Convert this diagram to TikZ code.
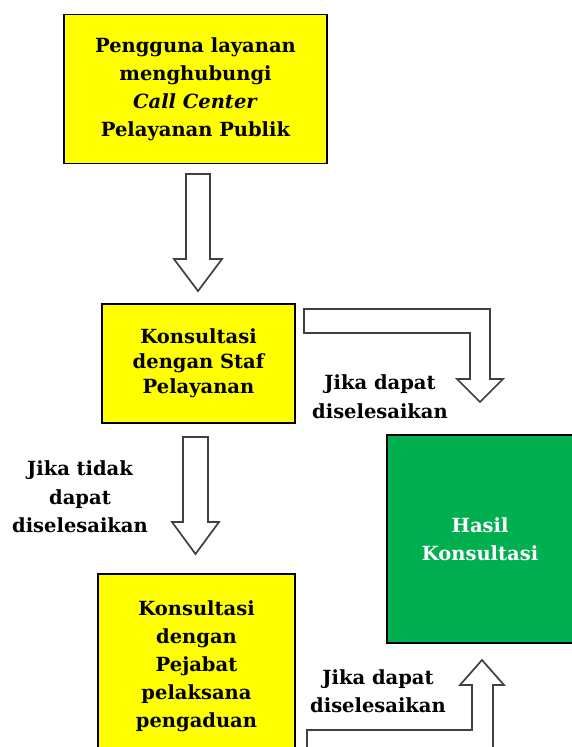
\documentclass[tikz,border=0pt]{standalone}
\usepackage{fontspec}
\setmainfont{DejaVu Serif}
\usetikzlibrary{calc}
\definecolor{boxyellow}{HTML}{FFFF00}
\definecolor{boxgreen}{HTML}{00B050}
\definecolor{arrowgray}{HTML}{404040}
\newcommand\bdarrow[5]{%
  \draw[blockarrow] ($(#1)+(-#3,0)$) -- ($(#1)+(#3,0)$) -- ($(#2)+(#3,#5)$)
    -- ($(#2)+(#4,#5)$) -- (#2) -- ($(#2)+(-#4,#5)$) -- ($(#2)+(-#3,#5)$) -- cycle;}
\begin{document}
\begin{tikzpicture}[x=1pt,y=1pt,
  box/.style={draw=black, line width=1.7pt, align=center, inner sep=0pt,
    font=\bfseries\fontsize{19.5}{28}\selectfont},
  blockarrow/.style={draw=arrowgray, line width=1.7pt, fill=white, line join=miter},
  lbl/.style={align=center, font=\bfseries\fontsize{19.5}{28.5}\selectfont}]
\useasboundingbox (0,0) rectangle (571,-747);
\fill[white] (0,0) rectangle (571,-747);

% boxes
\node[box, fill=boxyellow, minimum width=263pt, minimum height=149pt] (b1) at (195.5,-89)
  {Pengguna layanan\\menghubungi\\\textit{Call Center}\\Pelayanan Publik};
\node[box, fill=boxyellow, minimum width=193pt, minimum height=119pt,
  font=\bfseries\fontsize{19.5}{25}\selectfont] (b2) at (198.5,-363.5)
  {Konsultasi\\dengan Staf\\Pelayanan};
\node[box, fill=boxyellow, minimum width=197pt, minimum height=184pt] (b3) at (196.5,-666)
  {Konsultasi\\dengan\\Pejabat\\pelaksana\\pengaduan};
\node[box, fill=boxgreen, text=white, minimum width=186pt, minimum height=208pt] (b4) at (480,-539)
  {Hasil\\Konsultasi};

% straight block arrows
\coordinate (a1s) at (198,-174);
\coordinate (a1e) at (198,-291);
\bdarrow{a1s}{a1e}{12}{24}{32}
\coordinate (a2s) at (195.5,-437);
\coordinate (a2e) at (195.5,-554);
\bdarrow{a2s}{a2e}{12.5}{23.5}{32}

% bent block arrows
\draw[blockarrow] (304,-309) -- (490,-309) -- (490,-379) -- (503,-379) -- (480,-402)
  -- (457,-379) -- (470,-379) -- (470,-333) -- (304,-333) -- cycle;
\draw[blockarrow] (307,-730) -- (472,-730) -- (472,-685) -- (460,-685) -- (482,-660)
  -- (504,-685) -- (493,-685) -- (493,-754) -- (307,-754) -- cycle;

% labels
\node[lbl, font=\bfseries\fontsize{19.5}{29}\selectfont] (l1) at (380,-397) {Jika dapat\\diselesaikan};
\node[lbl] (l2) at (80,-497) {Jika tidak\\dapat\\diselesaikan};
\node[lbl, font=\bfseries\fontsize{19.5}{28}\selectfont] (l3) at (378,-691) {Jika dapat\\diselesaikan};
\end{tikzpicture}
\end{document}
